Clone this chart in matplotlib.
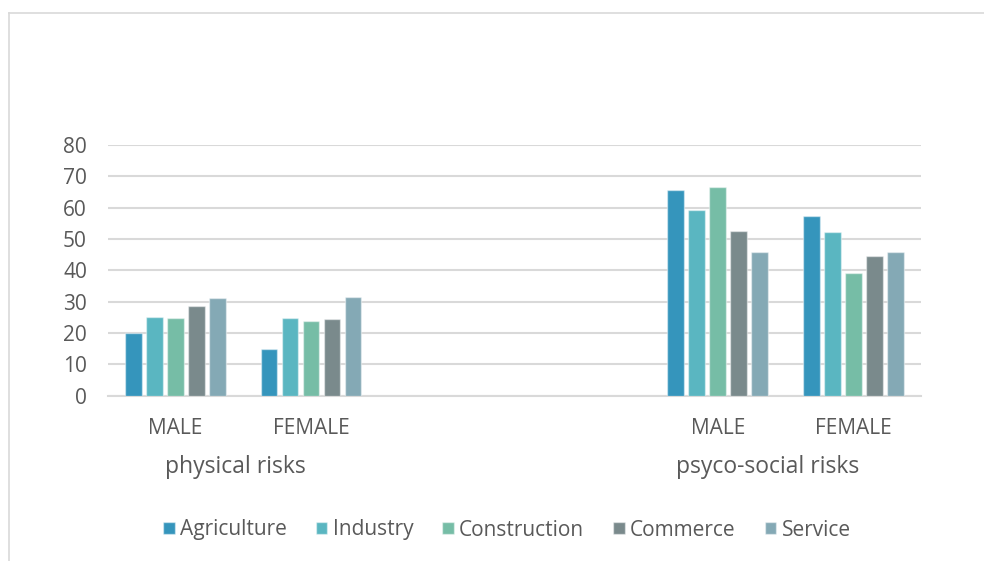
import numpy as np
import matplotlib
matplotlib.use("Agg")
import matplotlib.pyplot as plt
from matplotlib.lines import Line2D

plt.rcParams['font.family'] = ['Open Sans', 'DejaVu Sans']

# data
sectors = ['Agriculture', 'Industry', 'Construction', 'Commerce', 'Service']
colors = ['#3595BC', '#5AB6C1', '#76BDA6', '#7A8A8C', '#84A9B5']
cat_labels = ['MALE', 'FEMALE', '', '', 'MALE', 'FEMALE']
cat_pos = [0, 1, 4, 5]   # slots 2 and 3 are empty spacers
groups = ['physical risks', 'psyco-social risks']
group_pos = [0.44, 4.37]

# rows: physical MALE, physical FEMALE, psycho MALE, psycho FEMALE
values = {
    'Agriculture':  [20.0, 14.9, 65.6, 57.3],
    'Industry':     [25.0, 24.7, 59.1, 52.1],
    'Construction': [24.8, 23.8, 66.5, 39.2],
    'Commerce':     [28.6, 24.5, 52.5, 44.6],
    'Service':      [31.1, 31.6, 46.0, 45.7],
}

txt = '#595959'
grid = '#D9D9D9'

fig = plt.figure(figsize=(9.84, 5.61), dpi=100)
ax = fig.add_axes([0.1095, 0.2947, 0.8265, 0.4469])

pitch = 0.155
width = 0.123
x = np.array(cat_pos, dtype=float)
for i, s in enumerate(sectors):
    ax.bar(x + (i - 2) * pitch, values[s], width, color=colors[i],
           edgecolor=(1, 1, 1, 0.45), linewidth=1.0, label=s, zorder=3)

ax.set_xlim(-0.5, 5.5)
ax.set_ylim(0, 80)
ax.set_yticks(range(0, 81, 10))
ax.set_xticks(range(6))
ax.set_xticklabels(cat_labels)
ax.yaxis.grid(True, color=grid, linewidth=1.5, zorder=0)
ax.set_axisbelow(True)
for sp in ['top', 'right', 'left']:
    ax.spines[sp].set_visible(False)
ax.spines['bottom'].set_color(grid)
ax.spines['bottom'].set_linewidth(1.5)
ax.tick_params(axis='both', length=0, labelsize=15, labelcolor=txt)
ax.tick_params(axis='y', pad=15)
ax.tick_params(axis='x', pad=16)

# second level of the category axis
for g, gx in zip(groups, group_pos):
    ax.text(gx, -0.285, g, transform=ax.get_xaxis_transform(),
            ha='center', va='center', fontsize=16.5, color=txt)

fig.legend(loc='center', bbox_to_anchor=(507 / 984, 1 - 530 / 561), ncol=5,
           frameon=False, fontsize=15, labelcolor=txt, handlelength=0.55,
           handleheight=0.55, handletextpad=0.25, columnspacing=1.4)

# chart area border
fy = 1 - 12.5 / 561
fx = 8.5 / 984
fig.add_artist(Line2D([fx, 1], [fy, fy], transform=fig.transFigure,
                      color=grid, linewidth=1.2))
fig.add_artist(Line2D([fx, fx], [0, fy], transform=fig.transFigure,
                      color=grid, linewidth=1.2))

fig.savefig('out.png', dpi=100)
